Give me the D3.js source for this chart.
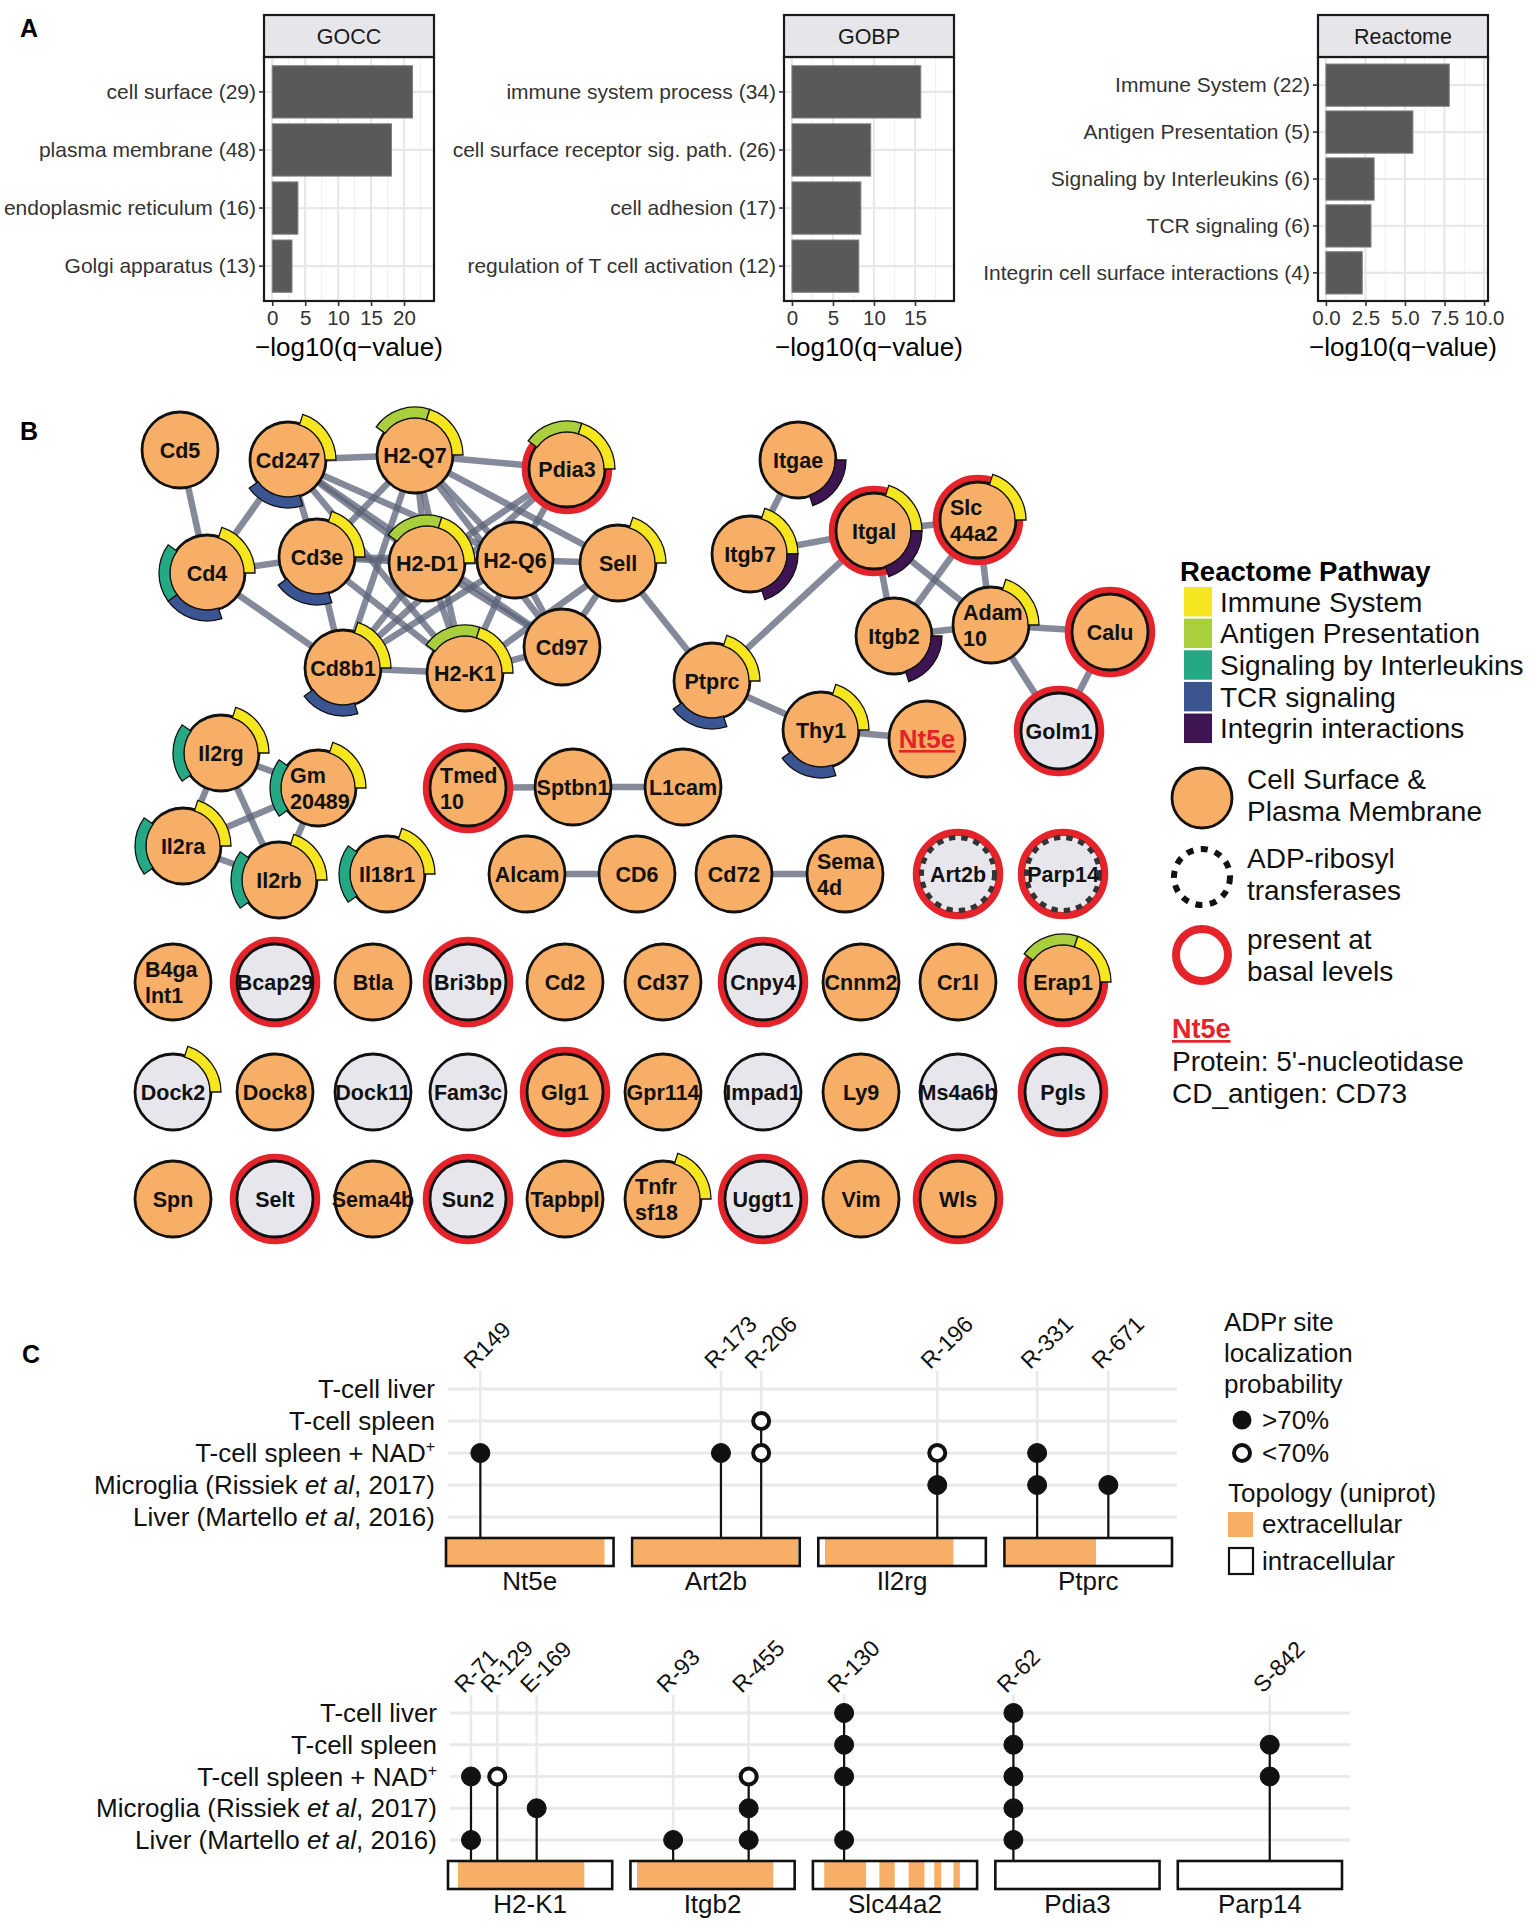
<!DOCTYPE html>
<html>
<head>
<meta charset="utf-8">
<script src="https://cdn.jsdelivr.net/npm/d3@7"></script>
<style>
  body { margin: 0; background: #fff; }
  text { font-family: "Liberation Sans", Arial, Helvetica, sans-serif; }
</style>
</head>
<body>
<div id="fig"></div>
<script>
// ---------- Panel A : enrichment bars ----------
const goccTerms = ['cell surface (29)', 'plasma membrane (48)', 'endoplasmic reticulum (16)', 'Golgi apparatus (13)'];
const goccValues = [21.3, 18.1, 3.9, 3.0];
const gobpTerms = ['immune system process (34)', 'cell surface receptor sig. path. (26)', 'cell adhesion (17)', 'regulation of T cell activation (12)'];
const gobpValues = [15.7, 9.6, 8.4, 8.15];
const reactTerms = ['Immune System (22)', 'Antigen Presentation (5)', 'Signaling by Interleukins (6)', 'TCR signaling (6)', 'Integrin cell surface interactions (4)'];
const reactValues = [7.8, 5.5, 3.05, 2.85, 2.3];

// ---------- Panel B : network ----------
const pathwayNames = ['Immune System', 'Antigen Presentation', 'Signaling by Interleukins', 'TCR signaling', 'Integrin interactions'];
const pathwayKeys = ['IS', 'AP', 'IL', 'TCR', 'INT'];
const nodePathways = {
  Cd247: ['IS', 'TCR'], 'H2-Q7': ['AP', 'IS'], Pdia3: ['AP', 'IS'], Cd4: ['IS', 'IL', 'TCR'],
  Cd3e: ['IS', 'TCR'], 'H2-D1': ['AP', 'IS'], Sell: ['IS'], Cd8b1: ['IS', 'TCR'], 'H2-K1': ['AP', 'IS'],
  Ptprc: ['IS', 'TCR'], Thy1: ['IS', 'TCR'], Itgae: ['INT'], Itgb7: ['IS', 'INT'], Itgal: ['IS', 'INT'],
  Slc44a2: ['IS'], Itgb2: ['INT'], Adam10: ['IS'], Il2rg: ['IS', 'IL'], Gm20489: ['IS', 'IL'],
  Il2ra: ['IS', 'IL'], Il2rb: ['IS', 'IL'], Il18r1: ['IS', 'IL'], Erap1: ['AP', 'IS'], Dock2: ['IS'], Tnfrsf18: ['IS']
};
const otherLocNodes = ['Golm1', 'Art2b', 'Parp14', 'Bcap29', 'Bri3bp', 'Cnpy4', 'Dock2', 'Dock11', 'Fam3c', 'Impad1', 'Ms4a6b', 'Pgls', 'Selt', 'Sun2', 'Uggt1'];
const basalNodes = ['Pdia3', 'Itgal', 'Slc44a2', 'Calu', 'Golm1', 'Tmed10', 'Art2b', 'Parp14', 'Bcap29', 'Bri3bp', 'Cnpy4', 'Erap1', 'Glg1', 'Pgls', 'Selt', 'Sun2', 'Uggt1', 'Wls'];
const artNodes = ['Art2b', 'Parp14'];
const edges = [
  ['Cd5', 'Cd4'], ['Cd4', 'Cd247'], ['Cd4', 'Cd3e'], ['Cd4', 'Cd8b1'],
  ['Cd247', 'H2-Q7'], ['Cd247', 'Cd3e'], ['Cd247', 'H2-D1'], ['Cd247', 'H2-Q6'], ['Cd247', 'H2-K1'], ['Cd247', 'Cd97'],
  ['H2-Q7', 'Pdia3'], ['H2-Q7', 'Cd3e'], ['H2-Q7', 'Cd8b1'], ['H2-Q7', 'H2-D1'], ['H2-Q7', 'H2-Q6'], ['H2-Q7', 'H2-K1'],
  ['H2-Q7', 'Cd97'], ['H2-Q7', 'Sell'],
  ['Pdia3', 'H2-D1'], ['Pdia3', 'H2-Q6'], ['Pdia3', 'Cd8b1'],
  ['Cd3e', 'H2-D1'], ['Cd3e', 'H2-Q6'], ['Cd3e', 'Cd8b1'], ['Cd3e', 'H2-K1'],
  ['H2-D1', 'H2-Q6'], ['H2-D1', 'Cd8b1'], ['H2-D1', 'H2-K1'], ['H2-D1', 'Cd97'],
  ['H2-Q6', 'Sell'], ['H2-Q6', 'H2-K1'], ['H2-Q6', 'Cd8b1'], ['H2-Q6', 'Cd97'],
  ['Sell', 'Cd97'], ['Sell', 'H2-K1'], ['Sell', 'Ptprc'], ['Cd8b1', 'H2-K1'], ['H2-K1', 'Cd97'],
  ['Ptprc', 'Itgal'], ['Ptprc', 'Thy1'], ['Thy1', 'Nt5e'],
  ['Itgae', 'Itgb7'], ['Itgb7', 'Itgal'], ['Itgal', 'Slc44a2'], ['Itgal', 'Itgb2'], ['Itgal', 'Adam10'],
  ['Slc44a2', 'Itgb2'], ['Slc44a2', 'Adam10'], ['Itgb2', 'Adam10'], ['Adam10', 'Calu'], ['Adam10', 'Golm1'], ['Calu', 'Golm1'],
  ['Il2rg', 'Gm20489'], ['Il2rg', 'Il2ra'], ['Il2rg', 'Il2rb'], ['Gm20489', 'Il2ra'], ['Gm20489', 'Il2rb'], ['Il2ra', 'Il2rb'],
  ['Tmed10', 'Sptbn1'], ['Sptbn1', 'L1cam'], ['Alcam', 'CD6'], ['Cd72', 'Sema4d']
];
const unlinkedRows = [
  ['B4galnt1', 'Bcap29', 'Btla', 'Bri3bp', 'Cd2', 'Cd37', 'Cnpy4', 'Cnnm2', 'Cr1l', 'Erap1'],
  ['Dock2', 'Dock8', 'Dock11', 'Fam3c', 'Glg1', 'Gpr114', 'Impad1', 'Ly9', 'Ms4a6b', 'Pgls'],
  ['Spn', 'Selt', 'Sema4b', 'Sun2', 'Tapbpl', 'Tnfrsf18', 'Uggt1', 'Vim', 'Wls']
];
const splitLabels = {
  Slc44a2: ['Slc', '44a2'], Adam10: ['Adam', '10'], Tmed10: ['Tmed', '10'], Gm20489: ['Gm', '20489'],
  Sema4d: ['Sema', '4d'], B4galnt1: ['B4ga', 'lnt1'], Tnfrsf18: ['Tnfr', 'sf18']
};

// ---------- Panel C : ADPr sites ----------
const datasets = ['T-cell liver', 'T-cell spleen', 'T-cell spleen + NAD+', 'Microglia (Rissiek et al, 2017)', 'Liver (Martello et al, 2016)'];
const proteinsTop = ['Nt5e', 'Art2b', 'Il2rg', 'Ptprc'];
const proteinsBottom = ['H2-K1', 'Itgb2', 'Slc44a2', 'Pdia3', 'Parp14'];
// site: protein, label, relative position along the protein
const sites = [
  ['Nt5e', 'R149', 0.205], ['Art2b', 'R-173', 0.53], ['Art2b', 'R-206', 0.77], ['Il2rg', 'R-196', 0.71],
  ['Ptprc', 'R-331', 0.195], ['Ptprc', 'R-671', 0.62],
  ['H2-K1', 'R-71', 0.14], ['H2-K1', 'R-129', 0.30], ['H2-K1', 'E-169', 0.54],
  ['Itgb2', 'R-93', 0.26], ['Itgb2', 'R-455', 0.72], ['Slc44a2', 'R-130', 0.19], ['Pdia3', 'R-62', 0.11], ['Parp14', 'S-842', 0.56]
];
// hit: protein, site, dataset index, probability class
const hits = [
  ['Nt5e', 'R149', 2, 'hi'],
  ['Art2b', 'R-173', 2, 'hi'], ['Art2b', 'R-206', 1, 'lo'], ['Art2b', 'R-206', 2, 'lo'],
  ['Il2rg', 'R-196', 2, 'lo'], ['Il2rg', 'R-196', 3, 'hi'],
  ['Ptprc', 'R-331', 2, 'hi'], ['Ptprc', 'R-331', 3, 'hi'], ['Ptprc', 'R-671', 3, 'hi'],
  ['H2-K1', 'R-71', 2, 'hi'], ['H2-K1', 'R-71', 4, 'hi'], ['H2-K1', 'R-129', 2, 'lo'], ['H2-K1', 'E-169', 3, 'hi'],
  ['Itgb2', 'R-93', 4, 'hi'], ['Itgb2', 'R-455', 2, 'lo'], ['Itgb2', 'R-455', 3, 'hi'], ['Itgb2', 'R-455', 4, 'hi'],
  ['Slc44a2', 'R-130', 0, 'hi'], ['Slc44a2', 'R-130', 1, 'hi'], ['Slc44a2', 'R-130', 2, 'hi'], ['Slc44a2', 'R-130', 4, 'hi'],
  ['Pdia3', 'R-62', 0, 'hi'], ['Pdia3', 'R-62', 1, 'hi'], ['Pdia3', 'R-62', 2, 'hi'], ['Pdia3', 'R-62', 3, 'hi'], ['Pdia3', 'R-62', 4, 'hi'],
  ['Parp14', 'S-842', 1, 'hi'], ['Parp14', 'S-842', 2, 'hi']
];
// extracellular segments (fraction of protein length)
const extracellular = {
  Nt5e: [[0.006, 0.946]], Art2b: [[0.01, 0.99]], Il2rg: [[0.04, 0.806]], Ptprc: [[0.009, 0.546]],
  'H2-K1': [[0.06, 0.83]], Itgb2: [[0.04, 0.87]],
  Slc44a2: [[0.069, 0.324], [0.405, 0.498], [0.583, 0.679], [0.739, 0.781], [0.856, 0.895]],
  Pdia3: [], Parp14: []
};

// ---------- layout (not data) ----------
const netLayout = {
  Cd5: [180, 450], Cd247: [288, 460], 'H2-Q7': [415, 455], Pdia3: [567, 469], Cd4: [207, 573], Cd3e: [317, 557],
  'H2-D1': [427, 563], 'H2-Q6': [515, 560], Sell: [618, 563], Cd8b1: [343, 668], 'H2-K1': [465, 673], Cd97: [562, 647],
  Ptprc: [712, 681], Thy1: [821, 730], Nt5e: [927, 739], Itgae: [798, 460], Itgb7: [750, 554], Itgal: [874, 531],
  Slc44a2: [978, 520], Itgb2: [894, 636], Adam10: [991, 625], Calu: [1110, 632], Golm1: [1059, 731],
  Il2rg: [221, 753], Gm20489: [318, 788], Il2ra: [183, 846], Il2rb: [279, 880], Il18r1: [387, 874],
  Tmed10: [468, 788], Sptbn1: [573, 787], L1cam: [683, 787], Alcam: [527, 874], CD6: [637, 874],
  Cd72: [734, 874], Sema4d: [845, 874], Art2b: [958, 874], Parp14: [1063, 874]
};
const gridColX = [173, 275, 373, 468, 565, 663, 763, 861, 958, 1063];
const gridRowY = [982, 1092, 1199];
unlinkedRows.forEach((row, r) => row.forEach((n, c) => { netLayout[n] = [gridColX[c], gridRowY[r]]; }));

const ORANGE = '#f7ae66', GREYFILL = '#e6e6ec', RED = '#e5232a';
const pathColor = d3.scaleOrdinal().domain(pathwayKeys).range(['#f6e61f', '#a9d03c', '#25a884', '#3b5593', '#3e1552']);

const svg = d3.select('#fig').append('svg').attr('width', 1535).attr('height', 1922);
svg.append('rect').attr('width', 1535).attr('height', 1922).attr('fill', '#fff');

// panel letters
[['A', 20, 37], ['B', 20, 440], ['C', 22, 1363]].forEach(([t, x, y]) => {
  svg.append('text').attr('x', x).attr('y', y).text(t)
    .attr('font-size', 25).attr('font-weight', 'bold').attr('fill', '#000');
});

// ================= Panel A =================
function barPanel(title, terms, values, domain, ticks, fmt, left) {
  const g = svg.append('g');
  const top = 57, bottom = 301, width = 170;
  const x = d3.scaleLinear().domain(domain).range([left, left + width]);
  const y = d3.scaleBand().domain(terms).range([top, bottom]).paddingInner(0.1).paddingOuter(0.15);
  const step = ticks[1] - ticks[0];
  const minor = d3.range(ticks[0] - step / 2, domain[1], step).filter(v => v > domain[0] && v < domain[1]);

  g.selectAll('.minor').data(minor).join('line')
    .attr('x1', d => x(d)).attr('x2', d => x(d)).attr('y1', top).attr('y2', bottom)
    .attr('stroke', '#f1f1f1').attr('stroke-width', 1.2);
  g.selectAll('.major').data(ticks).join('line')
    .attr('x1', d => x(d)).attr('x2', d => x(d)).attr('y1', top).attr('y2', bottom)
    .attr('stroke', '#e8e8e8').attr('stroke-width', 2.2);
  g.selectAll('.hgrid').data(terms).join('line')
    .attr('x1', left).attr('x2', left + width)
    .attr('y1', d => y(d) + y.bandwidth() / 2).attr('y2', d => y(d) + y.bandwidth() / 2)
    .attr('stroke', '#e8e8e8').attr('stroke-width', 2.2);

  g.selectAll('.bar').data(terms).join('rect')
    .attr('x', x(0)).attr('y', d => y(d))
    .attr('width', (d, i) => x(values[i]) - x(0)).attr('height', y.bandwidth())
    .attr('fill', '#595959').attr('stroke', '#808080').attr('stroke-width', 1);

  g.append('rect').attr('x', left).attr('y', top).attr('width', width).attr('height', bottom - top)
    .attr('fill', 'none').attr('stroke', '#1a1a1a').attr('stroke-width', 2.2);
  g.append('rect').attr('x', left).attr('y', 15).attr('width', width).attr('height', top - 15)
    .attr('fill', '#e5e5ea').attr('stroke', '#1a1a1a').attr('stroke-width', 2.2);
  g.append('text').attr('x', left + width / 2).attr('y', 44).attr('text-anchor', 'middle')
    .attr('font-size', 21.5).attr('fill', '#1a1a1a').text(title);

  const ax = g.append('g').attr('transform', `translate(0,${bottom})`)
    .call(d3.axisBottom(x).tickValues(ticks).tickFormat(fmt).tickSize(5).tickPadding(4));
  ax.select('.domain').remove();
  ax.selectAll('line').attr('stroke', '#333').attr('stroke-width', 1.6);
  ax.selectAll('text').attr('font-size', 20.5).attr('fill', '#333')
    .style('font-family', '"Liberation Sans", Arial, sans-serif');

  const ay = g.append('g').attr('transform', `translate(${left},0)`)
    .call(d3.axisLeft(y).tickSize(5).tickPadding(3));
  ay.select('.domain').remove();
  ay.selectAll('line').attr('stroke', '#333').attr('stroke-width', 1.6);
  ay.selectAll('text').attr('font-size', 21).attr('fill', '#333')
    .style('font-family', '"Liberation Sans", Arial, sans-serif');

  g.append('text').attr('x', left + width / 2).attr('y', 356).attr('text-anchor', 'middle')
    .attr('font-size', 26).attr('fill', '#000').text('\u2212log10(q\u2212value)');
}
barPanel('GOCC', goccTerms, goccValues, [-1.25, 24.55], [0, 5, 10, 15, 20], d3.format('d'), 264);
barPanel('GOBP', gobpTerms, gobpValues, [-0.97, 19.75], [0, 5, 10, 15], d3.format('d'), 784);
barPanel('Reactome', reactTerms, reactValues, [-0.5, 10.25], [0, 2.5, 5, 7.5, 10], d3.format('.1f'), 1318);

// ================= Panel B =================
const gB = svg.append('g');
const R = 38;
const pos = n => netLayout[n];

gB.append('g').selectAll('line').data(edges).join('line')
  .attr('x1', d => pos(d[0])[0]).attr('y1', d => pos(d[0])[1])
  .attr('x2', d => pos(d[1])[0]).attr('y2', d => pos(d[1])[1])
  .attr('stroke', '#5b6377').attr('stroke-opacity', 0.75).attr('stroke-width', 6.5);

const allNodes = Object.keys(netLayout);
const arcGen = d3.arc().innerRadius(R - 1).outerRadius(R + 10);
const slot = k => {
  const i = pathwayKeys.indexOf(k);
  return { startAngle: (90 - 72 * (i + 1)) * Math.PI / 180, endAngle: (90 - 72 * i) * Math.PI / 180 };
};

const nodeG = gB.append('g').selectAll('g').data(allNodes).join('g')
  .attr('transform', d => `translate(${pos(d)[0]},${pos(d)[1]})`);

nodeG.filter(d => basalNodes.includes(d)).append('circle')
  .attr('r', R + 3.5).attr('fill', 'none').attr('stroke', RED).attr('stroke-width', 7.5);
nodeG.append('circle').attr('r', R)
  .attr('fill', d => otherLocNodes.includes(d) ? GREYFILL : ORANGE)
  .attr('stroke', d => artNodes.includes(d) ? 'none' : '#111')
  .attr('stroke-width', 2.8);
nodeG.filter(d => artNodes.includes(d)).append('circle')
  .attr('r', R - 1.5).attr('fill', 'none').attr('stroke', '#333').attr('stroke-width', 5)
  .attr('stroke-dasharray', '6.5 6');

nodeG.each(function (d) {
  const ps = nodePathways[d] || [];
  d3.select(this).selectAll('path.pw').data(ps).join('path').attr('class', 'pw')
    .attr('d', k => arcGen(slot(k)))
    .attr('fill', k => pathColor(k)).attr('stroke', '#111').attr('stroke-width', 1.3);
});

nodeG.each(function (d) {
  const g = d3.select(this);
  const lines = splitLabels[d];
  if (lines) {
    lines.forEach((t, i) => {
      g.append('text').attr('x', -28).attr('y', -5 + i * 26).text(t)
        .attr('font-size', 21.5).attr('font-weight', 'bold').attr('fill', '#111');
    });
  } else {
    const big = d === 'Nt5e';
    const t = g.append('text').attr('x', 0).attr('y', big ? 9 : 8).attr('text-anchor', 'middle').text(d)
      .attr('font-size', big ? 26 : 21.5).attr('font-weight', 'bold').attr('fill', big ? RED : '#111');
    if (big) t.attr('text-decoration', 'underline');
  }
});

// legend B
const lg = svg.append('g');
lg.append('text').attr('x', 1180).attr('y', 581).text('Reactome Pathway')
  .attr('font-size', 27.5).attr('font-weight', 'bold');
const ly = d3.scaleBand().domain(pathwayKeys).range([587, 743]).paddingInner(0.07);
lg.selectAll('rect.sw').data(pathwayKeys).join('rect').attr('class', 'sw')
  .attr('x', 1184).attr('y', d => ly(d)).attr('width', 28).attr('height', ly.bandwidth())
  .attr('fill', d => pathColor(d));
lg.selectAll('text.sw').data(pathwayKeys).join('text').attr('class', 'sw')
  .attr('x', 1220).attr('y', d => ly(d) + ly.bandwidth() / 2 + 10)
  .attr('font-size', 28).attr('fill', '#111').text((d, i) => pathwayNames[i]);

lg.append('circle').attr('cx', 1202).attr('cy', 798).attr('r', 30)
  .attr('fill', ORANGE).attr('stroke', '#111').attr('stroke-width', 2.8);
lg.append('circle').attr('cx', 1202).attr('cy', 877).attr('r', 28)
  .attr('fill', 'none').attr('stroke', '#111').attr('stroke-width', 6).attr('stroke-dasharray', '7 7.5');
lg.append('circle').attr('cx', 1202).attr('cy', 955).attr('r', 26)
  .attr('fill', 'none').attr('stroke', RED).attr('stroke-width', 8);
[['Cell Surface &', 789], ['Plasma Membrane', 821], ['ADP-ribosyl', 868], ['transferases', 900],
 ['present at', 949], ['basal levels', 981]].forEach(([t, y]) => {
  lg.append('text').attr('x', 1247).attr('y', y).text(t).attr('font-size', 28).attr('fill', '#111');
});
lg.append('text').attr('x', 1172).attr('y', 1038).text('Nt5e')
  .attr('font-size', 27).attr('font-weight', 'bold').attr('fill', RED).attr('text-decoration', 'underline');
lg.append('text').attr('x', 1172).attr('y', 1071).text("Protein: 5'-nucleotidase").attr('font-size', 28).attr('fill', '#111');
lg.append('text').attr('x', 1172).attr('y', 1103).text('CD_antigen: CD73').attr('font-size', 28).attr('fill', '#111');

// ================= Panel C =================
function datasetLabel(sel, d) {
  if (d.includes('et al')) {
    const [a, b] = d.split('et al');
    sel.append('tspan').text(a);
    sel.append('tspan').attr('font-style', 'italic').text('et al');
    sel.append('tspan').text(b);
  } else if (d.endsWith('NAD+')) {
    sel.append('tspan').text(d.slice(0, -1));
    sel.append('tspan').attr('font-size', 16).attr('dy', -10).text('+');
  } else {
    sel.text(d);
  }
}

function siteRow(proteins, rowRange, xRange, gridEnd) {
  const g = svg.append('g');
  const y = d3.scalePoint().domain(d3.range(datasets.length)).range(rowRange);
  const xb = d3.scaleBand().domain(proteins).range(xRange).paddingInner(0.1);
  const boxTop = rowRange[1] + 21, boxH = 28;
  const rowSites = sites.filter(s => proteins.includes(s[0]));
  const sx = s => d3.scaleLinear().domain([0, 1]).range([xb(s[0]), xb(s[0]) + xb.bandwidth()])(s[2]);

  // horizontal grid
  g.selectAll('.hg').data(d3.range(datasets.length)).join('line')
    .attr('x1', xRange[0] + 2).attr('x2', gridEnd)
    .attr('y1', d => y(d)).attr('y2', d => y(d))
    .attr('stroke', '#e9e9e9').attr('stroke-width', 3);
  // vertical site grid
  g.selectAll('.vg').data(rowSites).join('line')
    .attr('x1', sx).attr('x2', sx).attr('y1', rowRange[0] - 18).attr('y2', boxTop)
    .attr('stroke', '#e9e9e9').attr('stroke-width', 2.5);

  // dataset labels
  g.selectAll('.dl').data(datasets).join('text')
    .attr('x', xRange[0] - 11).attr('y', (d, i) => y(i) + 9).attr('text-anchor', 'end')
    .attr('font-size', 26).attr('fill', '#111')
    .each(function (d) { datasetLabel(d3.select(this), d); });

  // site labels
  g.selectAll('.sl').data(rowSites).join('text')
    .attr('transform', s => `translate(${sx(s) - 7},${rowRange[0] - 19}) rotate(-45)`)
    .attr('font-size', 23).attr('fill', '#111').text(s => s[1]);

  // stems
  g.selectAll('.stem').data(rowSites.filter(s => hits.some(h => h[0] === s[0] && h[1] === s[1]))).join('line')
    .attr('x1', sx).attr('x2', sx).attr('y2', boxTop)
    .attr('y1', s => y(d3.min(hits.filter(h => h[0] === s[0] && h[1] === s[1]), h => h[2])))
    .attr('stroke', '#111').attr('stroke-width', 2.2);

  // protein boxes with topology
  const bx = g.selectAll('.box').data(proteins).join('g');
  bx.append('rect').attr('x', d => xb(d)).attr('y', boxTop).attr('width', xb.bandwidth()).attr('height', boxH)
    .attr('fill', '#fff');
  bx.each(function (p) {
    const sc = d3.scaleLinear().domain([0, 1]).range([xb(p), xb(p) + xb.bandwidth()]);
    d3.select(this).selectAll('.ex').data(extracellular[p]).join('rect')
      .attr('x', seg => sc(seg[0])).attr('width', seg => sc(seg[1]) - sc(seg[0]))
      .attr('y', boxTop + 1).attr('height', boxH - 2).attr('fill', ORANGE);
  });
  bx.append('rect').attr('x', d => xb(d)).attr('y', boxTop).attr('width', xb.bandwidth()).attr('height', boxH)
    .attr('fill', 'none').attr('stroke', '#111').attr('stroke-width', 2.6);
  bx.append('text').attr('x', d => xb(d) + xb.bandwidth() / 2).attr('y', boxTop + boxH + 24)
    .attr('text-anchor', 'middle').attr('font-size', 26).attr('fill', '#111').text(d => d);

  // dots
  const rowHits = hits.filter(h => proteins.includes(h[0]));
  const hx = h => sx(sites.find(s => s[0] === h[0] && s[1] === h[1]));
  g.selectAll('.dot').data(rowHits).join('circle')
    .attr('cx', hx).attr('cy', h => y(h[2]))
    .attr('r', h => h[3] === 'hi' ? 9.5 : 8)
    .attr('fill', h => h[3] === 'hi' ? '#111' : '#fff')
    .attr('stroke', '#111').attr('stroke-width', h => h[3] === 'hi' ? 1 : 4);
}
siteRow(proteinsTop, [1389, 1517], [446, 1172], 1177);
siteRow(proteinsBottom, [1713, 1840], [448, 1342], 1350);

// legend C
const lc = svg.append('g');
[['ADPr site', 1331], ['localization', 1362], ['probability', 1393]].forEach(([t, y]) => {
  lc.append('text').attr('x', 1224).attr('y', y).text(t).attr('font-size', 26).attr('fill', '#111');
});
lc.append('circle').attr('cx', 1242).attr('cy', 1420).attr('r', 9.5).attr('fill', '#111');
lc.append('circle').attr('cx', 1242).attr('cy', 1453).attr('r', 8).attr('fill', '#fff').attr('stroke', '#111').attr('stroke-width', 4);
lc.append('text').attr('x', 1262).attr('y', 1429).text('>70%').attr('font-size', 26).attr('fill', '#111');
lc.append('text').attr('x', 1262).attr('y', 1462).text('<70%').attr('font-size', 26).attr('fill', '#111');
lc.append('text').attr('x', 1228).attr('y', 1502).text('Topology (uniprot)').attr('font-size', 26).attr('fill', '#111');
lc.append('rect').attr('x', 1228).attr('y', 1512).attr('width', 25).attr('height', 25).attr('fill', ORANGE);
lc.append('rect').attr('x', 1229).attr('y', 1548).attr('width', 24).attr('height', 26).attr('fill', '#fff')
  .attr('stroke', '#111').attr('stroke-width', 2.2);
lc.append('text').attr('x', 1262).attr('y', 1533).text('extracellular').attr('font-size', 26).attr('fill', '#111');
lc.append('text').attr('x', 1262).attr('y', 1570).text('intracellular').attr('font-size', 26).attr('fill', '#111');
</script>
</body>
</html>
